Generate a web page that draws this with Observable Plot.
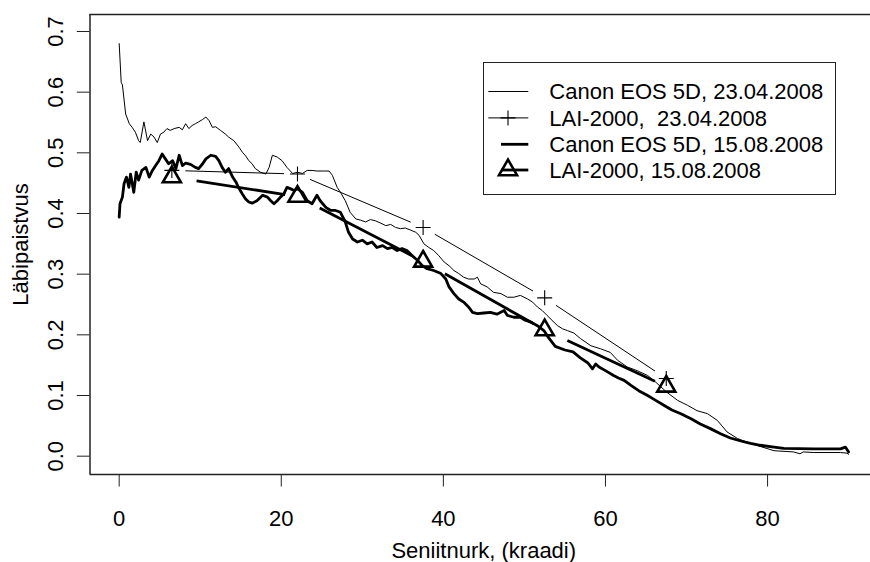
<!DOCTYPE html>
<html>
<head>
<meta charset="utf-8">
<script src="https://cdn.jsdelivr.net/npm/d3@7"></script>
<script src="https://cdn.jsdelivr.net/npm/@observablehq/plot@0.6"></script>
<style>
  html, body { margin: 0; padding: 0; background: white; }
  #wrap { position: relative; width: 870px; height: 562px; overflow: hidden; font-family: "Liberation Sans", Arial, sans-serif; }
  #legend { position: absolute; left: 482.7px; top: 62px; width: 353.3px; height: 133px; border: 1.3px solid #222; box-sizing: border-box; background: white; }
  #legend svg { position: absolute; left: -1.3px; top: -1.3px; overflow: visible; }
</style>
</head>
<body>
<div id="wrap"></div>
<script>
// ---------- data ----------
const xTicks = [0, 20, 40, 60, 80];
const yTicks = [0, 0.1, 0.2, 0.3, 0.4, 0.5, 0.6, 0.7];

const canonAprX = [0.0,0.25,0.4,0.8,1.25,1.6,2.0,2.4,2.6,3.05,3.5,3.9,4.3,4.7,5.1,5.5,5.9,6.3,6.8,7.4,7.8,8.2,8.6,9.0,9.4,9.8,10.3,10.7,11.1,11.5,11.9,12.5,13.1,13.5,14.15,14.8,15.2,15.6,16.0,16.4,16.8,17.45,18.1,18.5,18.9,19.5,20.1,20.7,21.4,22.0,22.6,23.2,23.8,24.4,25.3,25.9,26.3,26.9,27.3,27.9,28.5,29.2,29.8,30.4,31.0,31.6,32.3,32.9,33.5,34.1,34.7,35.3,35.9,36.6,37.0,37.6,38.2,38.8,39.4,40.1,40.7,41.3,41.9,42.5,43.1,43.8,44.2,44.6,45.4,46.2,47.1,47.9,48.7,49.5,50.4,51.0,51.6,52.2,52.8,53.4,54.1,54.7,55.3,56.1,56.9,58.2,59.4,60.6,61.5,62.7,63.9,65.2,66.2,67.6,68.9,70.1,71.3,72.6,73.8,75.0,76.3,77.5,79.1,80.8,83.2,84.0,84.4,85.7,89.0,89.8,90.0];
const canonAprY = [0.680,0.616,0.612,0.564,0.548,0.542,0.534,0.520,0.517,0.551,0.520,0.531,0.526,0.517,0.531,0.534,0.540,0.537,0.540,0.542,0.538,0.548,0.540,0.545,0.548,0.551,0.555,0.559,0.553,0.542,0.543,0.537,0.531,0.526,0.520,0.509,0.501,0.495,0.487,0.482,0.474,0.468,0.465,0.476,0.496,0.493,0.487,0.476,0.466,0.468,0.466,0.471,0.471,0.470,0.470,0.470,0.463,0.443,0.435,0.421,0.402,0.391,0.389,0.386,0.390,0.388,0.384,0.380,0.382,0.377,0.375,0.376,0.373,0.369,0.364,0.350,0.344,0.339,0.331,0.320,0.314,0.306,0.301,0.295,0.292,0.292,0.295,0.284,0.279,0.270,0.268,0.262,0.262,0.265,0.259,0.254,0.246,0.240,0.232,0.224,0.215,0.210,0.207,0.203,0.194,0.182,0.177,0.171,0.158,0.147,0.141,0.133,0.122,0.105,0.092,0.084,0.075,0.070,0.059,0.040,0.029,0.023,0.016,0.009,0.007,0.004,0.007,0.006,0.006,0.005,0.003];

const canonAugX = [0.0,0.1,0.4,0.6,0.9,1.2,1.4,1.8,2.1,2.4,2.8,3.3,3.7,4.1,4.5,4.9,5.3,5.7,6.1,6.6,7.0,7.4,7.8,8.2,8.8,9.4,9.8,10.3,10.7,11.3,11.9,12.3,12.7,13.1,13.5,14.0,14.4,14.8,15.2,15.6,16.0,16.4,17.0,17.7,18.3,18.7,19.1,19.5,19.9,20.3,20.7,21.1,21.6,22.0,22.6,23.2,23.8,24.4,24.8,25.5,26.1,26.7,27.3,27.9,28.3,28.8,29.4,30.0,30.6,31.2,31.8,32.5,33.1,33.7,34.3,34.9,35.5,36.1,36.8,37.4,38.0,38.8,39.7,40.3,40.7,41.3,41.9,42.5,43.1,43.6,44.2,45.0,45.8,46.6,47.5,47.9,48.7,49.5,50.1,50.8,51.6,52.4,53.0,53.8,55.0,56.0,56.9,57.8,58.4,58.8,59.2,60.0,61.0,61.6,62.3,63.1,64.1,65.2,66.2,67.2,68.2,69.3,70.5,71.7,73.0,74.2,75.4,76.7,77.9,79.1,80.8,82.0,85.7,89.0,89.6,90.0];
const canonAugY = [0.394,0.416,0.427,0.449,0.460,0.443,0.465,0.435,0.468,0.455,0.471,0.476,0.460,0.471,0.479,0.487,0.498,0.490,0.482,0.487,0.474,0.496,0.479,0.483,0.481,0.476,0.474,0.482,0.490,0.496,0.494,0.487,0.476,0.468,0.474,0.460,0.452,0.441,0.432,0.424,0.419,0.417,0.421,0.430,0.427,0.421,0.416,0.421,0.427,0.432,0.443,0.441,0.438,0.441,0.435,0.421,0.416,0.430,0.421,0.410,0.405,0.405,0.402,0.386,0.369,0.358,0.353,0.356,0.350,0.353,0.344,0.347,0.342,0.344,0.339,0.342,0.339,0.331,0.323,0.314,0.309,0.306,0.301,0.292,0.279,0.268,0.259,0.254,0.246,0.237,0.235,0.236,0.237,0.234,0.240,0.232,0.229,0.229,0.224,0.221,0.215,0.207,0.195,0.181,0.175,0.172,0.162,0.154,0.144,0.152,0.147,0.141,0.133,0.129,0.125,0.117,0.108,0.100,0.092,0.084,0.076,0.070,0.062,0.053,0.045,0.037,0.030,0.025,0.021,0.018,0.015,0.013,0.012,0.012,0.015,0.007];

const laiX = [6.5, 22, 37.5, 52.5, 67.5];
const laiAprY = [0.471, 0.465, 0.377, 0.261, 0.128];
const laiAugY = [0.460, 0.428, 0.321, 0.208, 0.115];

const legendLabels = ["Canon EOS 5D, 23.04.2008", "LAI-2000,  23.04.2008", "Canon EOS 5D, 15.08.2008", "LAI-2000, 15.08.2008"];

// ---------- layout ----------
const W = 870, H = 562;
const mL = 89.5, mT = 14, mB = 88, mR = 0;
const xDomain = [-3.6, 92.7];
const yDomain = [-0.0302, 0.728];
const FONT = "Liberation Sans, Arial, sans-serif";

const toRows = (xs, ys) => xs.map((x, i) => ({x, y: ys[i]}));
const canonApr = toRows(canonAprX, canonAprY);
const canonAug = toRows(canonAugX, canonAugY);
const laiApr = toRows(laiX, laiAprY);
const laiAug = toRows(laiX, laiAugY);

// pixel helpers (same mapping Plot uses) to shorten type="b" segments by a pixel gap
const xs = d3.scaleLinear(xDomain, [mL, W - mR]);
const ys = d3.scaleLinear(yDomain, [H - mB, mT]);
function gapSegments(rows, g1, g2) {
  const out = [];
  for (let i = 0; i < rows.length - 1; i++) {
    const P = [xs(rows[i].x), ys(rows[i].y)], Q = [xs(rows[i+1].x), ys(rows[i+1].y)];
    const dx = Q[0] - P[0], dy = Q[1] - P[1], d = Math.hypot(dx, dy);
    out.push({
      x1: xs.invert(P[0] + dx * g1 / d), y1: ys.invert(P[1] + dy * g1 / d),
      x2: xs.invert(Q[0] - dx * g2 / d), y2: ys.invert(Q[1] - dy * g2 / d)
    });
  }
  return out;
}
const segApr = gapSegments(laiApr, 13.5, 13.5);
const segAug = gapSegments(laiAug, 25, 12.5);

const plusSymbol = {draw(c, size) { const r = Math.sqrt(size / Math.PI); c.moveTo(-r, 0); c.lineTo(r, 0); c.moveTo(0, -r); c.lineTo(0, r); }};
const triSymbol = {draw(c, size) { const R = Math.sqrt(size / Math.PI); c.moveTo(0, -1.555 * R); c.lineTo(1.3468 * R, 0.7776 * R); c.lineTo(-1.3468 * R, 0.7776 * R); c.closePath(); }};

const chart = Plot.plot({
  width: W, height: H,
  marginLeft: mL, marginTop: mT, marginBottom: mB, marginRight: mR,
  style: {fontFamily: FONT, fontSize: "22px", background: "white", color: "black"},
  x: {domain: xDomain},
  y: {domain: yDomain},
  marks: [
    // frame (right edge lies outside the picture)
    Plot.ruleX([xDomain[0]], {stroke: "#222", strokeWidth: 1.5}),
    Plot.ruleY([yDomain[0], yDomain[1]], {stroke: "#222", strokeWidth: 1.5}),
    // axes
    Plot.axisX(xTicks, {tickSize: 12.5, tickPadding: 23.5, label: null, fontSize: 22, stroke: "#222"}),
    Plot.axisY(yTicks, {tickSize: 12.7, tickPadding: 14.8, tickRotate: -90, textAnchor: "middle", lineAnchor: "bottom",
      tickFormat: d3.format(".1f"), label: null, fontSize: 22, stroke: "#222"}),
    Plot.text(["Läbipaistvus"], {text: d => d, frameAnchor: "left", dx: -62, rotate: -90, textAnchor: "middle", lineAnchor: "bottom", fontSize: 22}),
    Plot.text(["Seniitnurk, (kraadi)"], {text: d => d, frameAnchor: "bottom", dx: 3.5, dy: 83, textAnchor: "middle", lineAnchor: "bottom", fontSize: 22}),
    // data
    Plot.line(canonApr, {x: "x", y: "y", stroke: "black", strokeWidth: 1, strokeLinejoin: "round"}),
    Plot.line(canonAug, {x: "x", y: "y", stroke: "black", strokeWidth: 2.8, strokeLinejoin: "round"}),
    Plot.link(segApr, {x1: "x1", y1: "y1", x2: "x2", y2: "y2", stroke: "black", strokeWidth: 1}),
    Plot.link(segAug, {x1: "x1", y1: "y1", x2: "x2", y2: "y2", stroke: "black", strokeWidth: 2.8}),
    Plot.dot(laiApr, {x: "x", y: "y", symbol: plusSymbol, r: 7.5, stroke: "black", strokeWidth: 1.1, fill: "none"}),
    Plot.dot(laiAug, {x: "x", y: "y", symbol: triSymbol, r: 6.7, stroke: "black", strokeWidth: 2.6, fill: "none"})
  ]
});

const wrap = document.getElementById("wrap");
wrap.appendChild(chart);

// legend (inside the plot frame, top right)
const leg = document.createElement("div");
leg.id = "legend";
const rowsY = [29.5, 55.9, 82.3, 108];
const svgNS = "http://www.w3.org/2000/svg";
const lsvg = document.createElementNS(svgNS, "svg");
lsvg.setAttribute("width", 353.3); lsvg.setAttribute("height", 133);
const styles = [
  {x1: 6.3, x2: 46.3, w: 1, sym: null},
  {x1: 6.3, x2: 46.3, w: 1, sym: "plus"},
  {x1: 19, x2: 46.3, w: 2.8, sym: null},
  {x1: 19, x2: 46.3, w: 2.8, sym: "tri"}
];
let html = "";
styles.forEach((s, i) => {
  const cy = rowsY[i];
  html += `<line x1="${s.x1}" x2="${s.x2}" y1="${cy}" y2="${cy}" stroke="black" stroke-width="${s.w}"/>`;
  const cx = 26;
  if (s.sym === "plus") html += `<path d="M${cx-7.5},${cy}H${cx+7.5}M${cx},${cy-7.5}V${cy+7.5}" stroke="black" stroke-width="1.1" fill="none"/>`;
  if (s.sym === "tri") { const R = 6.7; html += `<path d="M${cx},${cy-1.555*R}L${cx+1.3468*R},${cy+0.7776*R}L${cx-1.3468*R},${cy+0.7776*R}Z" stroke="black" stroke-width="2.6" fill="none"/>`; }
  html += `<text x="67.3" y="${cy + 7.9}" font-size="22" font-family="${FONT}" fill="black" style="white-space:pre">${legendLabels[i]}</text>`;
});
lsvg.innerHTML = html;
leg.appendChild(lsvg);
wrap.appendChild(leg);
</script>
</body>
</html>
